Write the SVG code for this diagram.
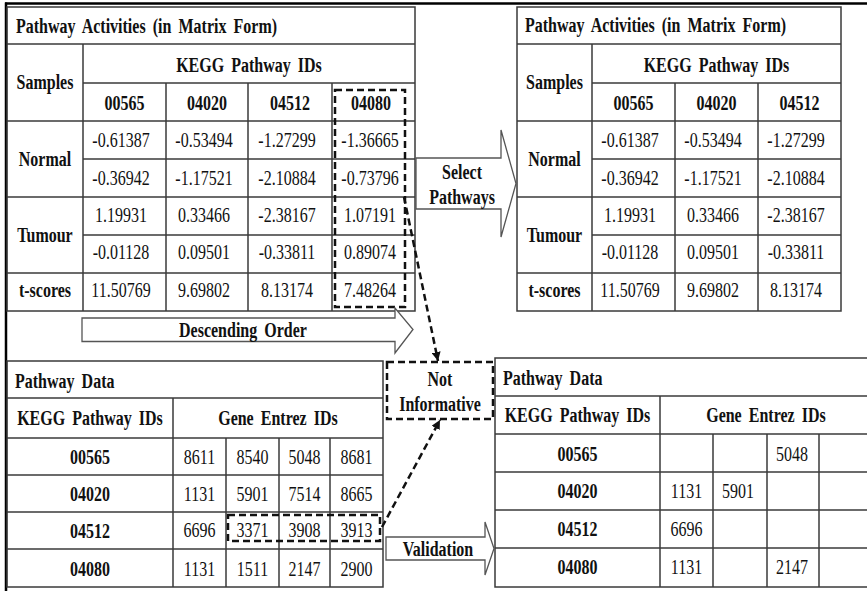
<svg xmlns="http://www.w3.org/2000/svg" width="867" height="591" viewBox="0 0 867 591">
<defs>
<style>
.grid{fill:none;stroke:#3a3a3a;stroke-width:1.5}
.ln{stroke:#3a3a3a;stroke-width:1.5}
.frame{stroke:#000;stroke-width:2.5}
.blk{fill:#fff;stroke:#555;stroke-width:1.3;stroke-linejoin:miter}
.dash{fill:none;stroke:#111;stroke-width:2.5;stroke-dasharray:7 4}
text{font-family:"Liberation Serif","Times New Roman",serif;font-size:20.5px;fill:#111;text-anchor:middle}
.b{font-weight:bold}
.s{text-anchor:start}
.t{word-spacing:4px}
</style>
<marker id="ah" markerUnits="userSpaceOnUse" markerWidth="9" markerHeight="9" refX="9" refY="4.5" orient="auto">
<path d="M0,0 L9,4.5 L0,9 z" fill="#111"/>
</marker>
</defs>
<rect width="867" height="591" fill="#fff"/>
<g id="frame">
<line class="frame" x1="5" y1="3.5" x2="867" y2="3.5"/>
<line class="frame" x1="6" y1="2.5" x2="6" y2="591"/>
</g>

<g id="matrix-full">
<rect class="grid" x="7" y="7" width="408" height="304"/>
<line class="ln" x1="7" y1="44" x2="415" y2="44"/>
<line class="ln" x1="83" y1="83" x2="415" y2="83"/>
<line class="ln" x1="7" y1="121" x2="415" y2="121"/>
<line class="ln" x1="83" y1="159" x2="415" y2="159"/>
<line class="ln" x1="7" y1="197" x2="415" y2="197"/>
<line class="ln" x1="83" y1="235" x2="415" y2="235"/>
<line class="ln" x1="7" y1="273" x2="415" y2="273"/>
<line class="ln" x1="83" y1="44" x2="83" y2="311"/>
<line class="ln" x1="166" y1="83" x2="166" y2="311"/>
<line class="ln" x1="248" y1="83" x2="248" y2="311"/>
<line class="ln" x1="332" y1="83" x2="332" y2="311"/>
<rect class="dash" x="335" y="90" width="70" height="217"/>
<text class="b s t" transform="translate(16,33) scale(.78,1)">Pathway Activities (in Matrix Form)</text>
<text class="b" transform="translate(45,89) scale(.78,1)">Samples</text>
<text class="b t" transform="translate(249,72) scale(.78,1)">KEGG Pathway IDs</text>
<text class="b" transform="translate(124.5,110) scale(.78,1)">00565</text>
<text class="b" transform="translate(207,110) scale(.78,1)">04020</text>
<text class="b" transform="translate(290,110) scale(.78,1)">04512</text>
<text class="b" transform="translate(371,110) scale(.78,1)">04080</text>
<text class="b" transform="translate(45,166) scale(.78,1)">Normal</text>
<text class="b" transform="translate(45,242) scale(.78,1)">Tumour</text>
<text class="b" transform="translate(45,297) scale(.78,1)">t-scores</text>
<text transform="translate(121,147) scale(.78,1)">-0.61387</text>
<text transform="translate(204,147) scale(.78,1)">-0.53494</text>
<text transform="translate(287,147) scale(.78,1)">-1.27299</text>
<text transform="translate(370,147) scale(.78,1)">-1.36665</text>
<text transform="translate(121,185) scale(.78,1)">-0.36942</text>
<text transform="translate(204,185) scale(.78,1)">-1.17521</text>
<text transform="translate(287,185) scale(.78,1)">-2.10884</text>
<text transform="translate(370,185) scale(.78,1)">-0.73796</text>
<text transform="translate(121,222) scale(.78,1)">1.19931</text>
<text transform="translate(204,222) scale(.78,1)">0.33466</text>
<text transform="translate(287,222) scale(.78,1)">-2.38167</text>
<text transform="translate(370,222) scale(.78,1)">1.07191</text>
<text transform="translate(121,259) scale(.78,1)">-0.01128</text>
<text transform="translate(204,259) scale(.78,1)">0.09501</text>
<text transform="translate(287,259) scale(.78,1)">-0.33811</text>
<text transform="translate(370,259) scale(.78,1)">0.89074</text>
<text transform="translate(121,297) scale(.78,1)">11.50769</text>
<text transform="translate(204,297) scale(.78,1)">9.69802</text>
<text transform="translate(287,297) scale(.78,1)">8.13174</text>
<text transform="translate(370,297) scale(.78,1)">7.48264</text>
</g>

<g id="matrix-selected">
<rect class="grid" x="517" y="7" width="324" height="304"/>
<line class="ln" x1="517" y1="44" x2="841" y2="44"/>
<line class="ln" x1="592" y1="83" x2="841" y2="83"/>
<line class="ln" x1="517" y1="121" x2="841" y2="121"/>
<line class="ln" x1="592" y1="159" x2="841" y2="159"/>
<line class="ln" x1="517" y1="197" x2="841" y2="197"/>
<line class="ln" x1="592" y1="235" x2="841" y2="235"/>
<line class="ln" x1="517" y1="273" x2="841" y2="273"/>
<line class="ln" x1="592" y1="44" x2="592" y2="311"/>
<line class="ln" x1="675" y1="83" x2="675" y2="311"/>
<line class="ln" x1="758" y1="83" x2="758" y2="311"/>
<text class="b s t" transform="translate(525,32) scale(.78,1)">Pathway Activities (in Matrix Form)</text>
<text class="b" transform="translate(554.5,89) scale(.78,1)">Samples</text>
<text class="b t" transform="translate(716.5,72) scale(.78,1)">KEGG Pathway IDs</text>
<text class="b" transform="translate(633.5,110) scale(.78,1)">00565</text>
<text class="b" transform="translate(716.5,110) scale(.78,1)">04020</text>
<text class="b" transform="translate(799.5,110) scale(.78,1)">04512</text>
<text class="b" transform="translate(554.5,166) scale(.78,1)">Normal</text>
<text class="b" transform="translate(554.5,242) scale(.78,1)">Tumour</text>
<text class="b" transform="translate(554.5,297) scale(.78,1)">t-scores</text>
<text transform="translate(630,147) scale(.78,1)">-0.61387</text>
<text transform="translate(713,147) scale(.78,1)">-0.53494</text>
<text transform="translate(796,147) scale(.78,1)">-1.27299</text>
<text transform="translate(630,185) scale(.78,1)">-0.36942</text>
<text transform="translate(713,185) scale(.78,1)">-1.17521</text>
<text transform="translate(796,185) scale(.78,1)">-2.10884</text>
<text transform="translate(630,222) scale(.78,1)">1.19931</text>
<text transform="translate(713,222) scale(.78,1)">0.33466</text>
<text transform="translate(796,222) scale(.78,1)">-2.38167</text>
<text transform="translate(630,259) scale(.78,1)">-0.01128</text>
<text transform="translate(713,259) scale(.78,1)">0.09501</text>
<text transform="translate(796,259) scale(.78,1)">-0.33811</text>
<text transform="translate(630,297) scale(.78,1)">11.50769</text>
<text transform="translate(713,297) scale(.78,1)">9.69802</text>
<text transform="translate(796,297) scale(.78,1)">8.13174</text>
</g>

<g id="pathway-data">
<rect class="grid" x="7" y="361" width="376" height="226"/>
<line class="ln" x1="7" y1="398" x2="383" y2="398"/>
<line class="ln" x1="7" y1="438" x2="383" y2="438"/>
<line class="ln" x1="7" y1="475" x2="383" y2="475"/>
<line class="ln" x1="7" y1="512" x2="383" y2="512"/>
<line class="ln" x1="7" y1="549" x2="383" y2="549"/>
<line class="ln" x1="173" y1="398" x2="173" y2="587"/>
<line class="ln" x1="226" y1="438" x2="226" y2="587"/>
<line class="ln" x1="279" y1="438" x2="279" y2="587"/>
<line class="ln" x1="330" y1="438" x2="330" y2="587"/>
<rect class="dash" x="228" y="515" width="152" height="26"/>
<text class="b s t" transform="translate(15,388) scale(.78,1)">Pathway Data</text>
<text class="b t" transform="translate(90,425) scale(.78,1)">KEGG Pathway IDs</text>
<text class="b t" transform="translate(278,425) scale(.78,1)">Gene Entrez IDs</text>
<text class="b" transform="translate(90,464) scale(.78,1)">00565</text>
<text class="b" transform="translate(90,501) scale(.78,1)">04020</text>
<text class="b" transform="translate(90,538) scale(.78,1)">04512</text>
<text class="b" transform="translate(90,576) scale(.78,1)">04080</text>
<text transform="translate(199.5,464) scale(.78,1)">8611</text>
<text transform="translate(252.5,464) scale(.78,1)">8540</text>
<text transform="translate(304.5,464) scale(.78,1)">5048</text>
<text transform="translate(356.5,464) scale(.78,1)">8681</text>
<text transform="translate(199.5,501) scale(.78,1)">1131</text>
<text transform="translate(252.5,501) scale(.78,1)">5901</text>
<text transform="translate(304.5,501) scale(.78,1)">7514</text>
<text transform="translate(356.5,501) scale(.78,1)">8665</text>
<text transform="translate(199.5,537) scale(.78,1)">6696</text>
<text transform="translate(252.5,537) scale(.78,1)">3371</text>
<text transform="translate(304.5,537) scale(.78,1)">3908</text>
<text transform="translate(356.5,537) scale(.78,1)">3913</text>
<text transform="translate(199.5,576) scale(.78,1)">1131</text>
<text transform="translate(252.5,576) scale(.78,1)">1511</text>
<text transform="translate(304.5,576) scale(.78,1)">2147</text>
<text transform="translate(356.5,576) scale(.78,1)">2900</text>
</g>

<g id="pathway-data-validated">
<rect class="grid" x="495" y="358" width="380" height="229"/>
<line class="ln" x1="495" y1="396" x2="875" y2="396"/>
<line class="ln" x1="495" y1="434" x2="875" y2="434"/>
<line class="ln" x1="495" y1="472" x2="875" y2="472"/>
<line class="ln" x1="495" y1="510" x2="875" y2="510"/>
<line class="ln" x1="495" y1="548" x2="875" y2="548"/>
<line class="ln" x1="660" y1="396" x2="660" y2="587"/>
<line class="ln" x1="713" y1="434" x2="713" y2="587"/>
<line class="ln" x1="767" y1="434" x2="767" y2="587"/>
<line class="ln" x1="819" y1="434" x2="819" y2="587"/>
<text class="b s t" transform="translate(503,385) scale(.78,1)">Pathway Data</text>
<text class="b t" transform="translate(577.5,422) scale(.78,1)">KEGG Pathway IDs</text>
<text class="b t" transform="translate(766,422) scale(.78,1)">Gene Entrez IDs</text>
<text class="b" transform="translate(577.5,461) scale(.78,1)">00565</text>
<text class="b" transform="translate(577.5,498) scale(.78,1)">04020</text>
<text class="b" transform="translate(577.5,536) scale(.78,1)">04512</text>
<text class="b" transform="translate(577.5,574) scale(.78,1)">04080</text>
<text transform="translate(792,461) scale(.78,1)">5048</text>
<text transform="translate(686.5,498) scale(.78,1)">1131</text>
<text transform="translate(738,498) scale(.78,1)">5901</text>
<text transform="translate(686.5,536) scale(.78,1)">6696</text>
<text transform="translate(686.5,574) scale(.78,1)">1131</text>
<text transform="translate(792,574) scale(.78,1)">2147</text>
</g>

<g id="not-informative">
<rect class="dash" x="387" y="362" width="106" height="57"/>
<text class="b" transform="translate(440,385.5) scale(.78,1)">Not</text>
<text class="b" transform="translate(440,410.5) scale(.78,1)">Informative</text>
</g>

<g id="connectors">
<g id="select-pathways">
<polygon class="blk" points="416,158 501,158 501,130 516,183.5 501,237 501,209 416,209"/>
<text class="b" transform="translate(462,178.5) scale(.78,1)">Select</text>
<text class="b" transform="translate(462,203.5) scale(.78,1)">Pathways</text>
</g>
<g id="descending-order">
<polygon class="blk" points="82,318 395,318 395,308 413,329.5 395,353 395,341.5 82,341.5"/>
<text class="b t" transform="translate(243,336.5) scale(.78,1)">Descending Order</text>
</g>
<g id="validation">
<polygon class="blk" points="386,537 485,537 485,522 494,548.5 485,575 485,560 386,560"/>
<text class="b" transform="translate(438,555.5) scale(.78,1)">Validation</text>
</g>
<line class="dash" x1="404" y1="197" x2="438" y2="361" marker-end="url(#ah)"/>
<line class="dash" x1="382" y1="527" x2="440" y2="420" marker-end="url(#ah)"/>
</g>
</svg>
